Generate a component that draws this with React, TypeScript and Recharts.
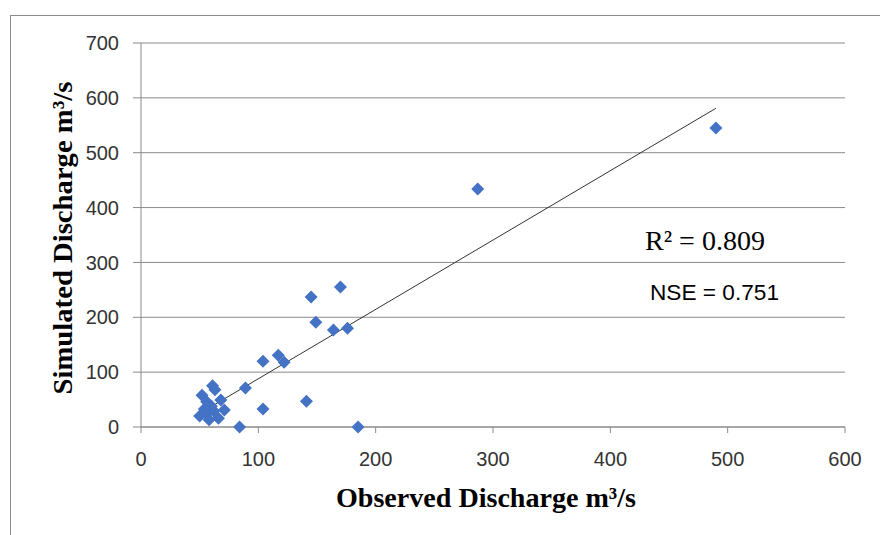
import React from "react";
import {
  ScatterChart,
  Scatter,
  XAxis,
  YAxis,
  CartesianGrid,
} from "recharts";

// observed vs simulated discharge (m3/s)
const observed = [490, 287, 170, 145, 149, 164, 176, 117, 122, 104, 89, 104, 141, 84, 185,
  52, 61, 63, 68, 56, 50, 56, 62, 58, 66, 60, 54, 71];
const simulated = [545, 434, 255, 237, 191, 177, 180, 131, 118, 120, 71, 33, 47, 0, 0,
  58, 75, 68, 49, 46, 20, 24, 29, 13, 16, 38, 33, 31];

// trendline end points
const trendX = [51, 490];
const trendY = [26, 581];

const xTicks = [0, 100, 200, 300, 400, 500, 600];
const yTicks = [0, 100, 200, 300, 400, 500, 600, 700];

const points = observed.map((x, i) => ({ x, y: simulated[i] }));
const trend = trendX.map((x, i) => ({ x, y: trendY[i] }));

const Diamond = (props: any) => {
  const { cx, cy } = props;
  const r = 6.5;
  return (
    <polygon
      points={`${cx},${cy - r} ${cx + r},${cy} ${cx},${cy + r} ${cx - r},${cy}`}
      fill="#4472C4"
    />
  );
};

const tickStyle = { fill: "#333", fontSize: 20, fontFamily: "'Liberation Sans', sans-serif" };

export default function App() {
  return (
    <div style={{ position: "absolute", left: 0, top: 0, width: 880, height: 535, background: "#fff", overflow: "hidden" }}>
      <div
        style={{
          position: "absolute",
          left: 10,
          top: 15,
          width: 900,
          height: 600,
          borderTop: "1px solid #8c8c8c",
          borderLeft: "1px solid #8c8c8c",
        }}
      />
      <ScatterChart
        width={880}
        height={535}
        margin={{ top: 43, right: 35, left: 81, bottom: 78 }}
        style={{ position: "absolute", left: 0, top: 0 }}
      >
        <CartesianGrid vertical={false} stroke="#8a8a8a" strokeWidth={1} />
        <XAxis
          type="number"
          dataKey="x"
          domain={[0, 600]}
          ticks={xTicks}
          height={30}
          tick={tickStyle}
          tickSize={6}
          tickMargin={19}
          axisLine={{ stroke: "#8a8a8a" }}
          tickLine={{ stroke: "#8a8a8a" }}
        />
        <YAxis
          type="number"
          dataKey="y"
          domain={[0, 700]}
          ticks={yTicks}
          width={60}
          tick={tickStyle}
          tickSize={8}
          tickMargin={14}
          axisLine={{ stroke: "#8a8a8a" }}
          tickLine={{ stroke: "#8a8a8a" }}
        />
        <Scatter
          data={trend}
          line={{ stroke: "#333", strokeWidth: 1 }}
          shape={() => <g />}
          isAnimationActive={false}
        />
        <Scatter data={points} shape={<Diamond />} isAnimationActive={false} />
      </ScatterChart>
      <svg
        width={880}
        height={535}
        style={{ position: "absolute", left: 0, top: 0, pointerEvents: "none" }}
      >
        <text
          x={486}
          y={507}
          textAnchor="middle"
          fontFamily="'Liberation Serif', serif"
          fontWeight="bold"
          fontSize={28}
          textLength={300}
          lengthAdjust="spacingAndGlyphs"
          fill="#000"
        >
          Observed Discharge m³/s
        </text>
        <text
          transform="translate(72,238) rotate(-90)"
          textAnchor="middle"
          fontFamily="'Liberation Serif', serif"
          fontWeight="bold"
          fontSize={28}
          textLength={313}
          lengthAdjust="spacingAndGlyphs"
          fill="#000"
        >
          Simulated Discharge m³/s
        </text>
        <text
          x={645}
          y={250}
          fontFamily="'Liberation Serif', serif"
          fontSize={28}
          textLength={120}
          lengthAdjust="spacingAndGlyphs"
          fill="#000"
        >
          R² = 0.809
        </text>
        <text
          x={650}
          y={300}
          fontFamily="'Liberation Sans', sans-serif"
          fontSize={22}
          textLength={129}
          lengthAdjust="spacingAndGlyphs"
          fill="#000"
        >
          NSE = 0.751
        </text>
      </svg>
    </div>
  );
}
